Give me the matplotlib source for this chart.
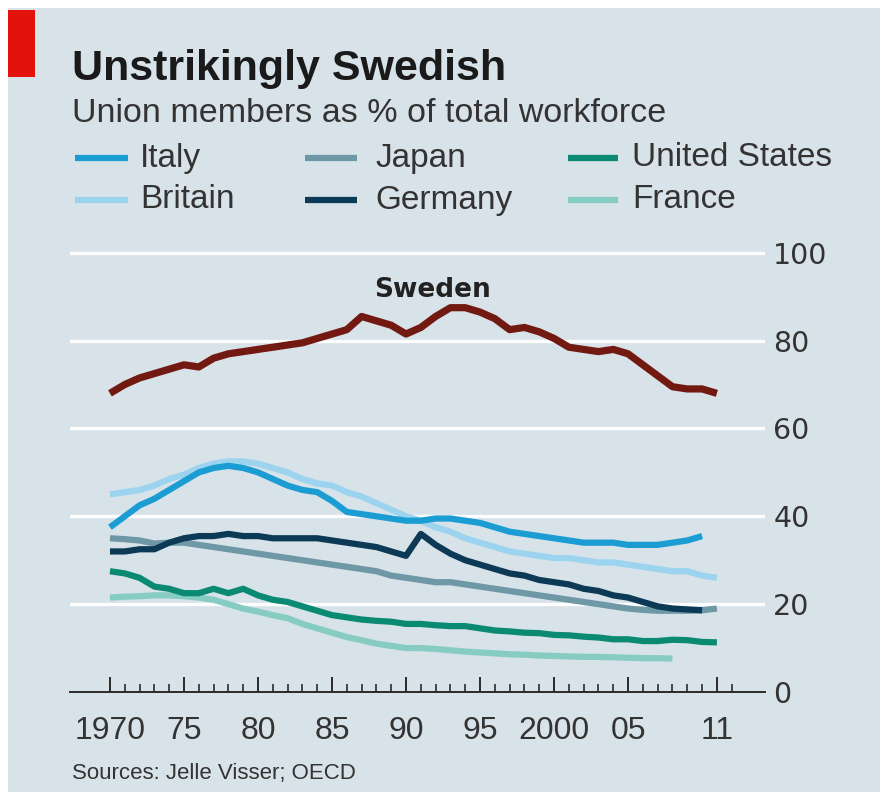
import matplotlib
matplotlib.use("Agg")
import matplotlib.pyplot as plt
from matplotlib.lines import Line2D
from matplotlib.patches import Rectangle

# union density, % of workforce
years = list(range(1970, 2012))

sweden = [68, 70, 71.5, 72.5, 73.5, 74.5, 74, 76, 77, 77.5,
          78, 78.5, 79, 79.5, 80.5, 81.5, 82.5, 85.5, 84.5, 83.5,
          81.5, 83, 85.5, 87.5, 87.5, 86.5, 85, 82.5, 83, 82,
          80.5, 78.5, 78, 77.5, 78, 77, 74.5, 72, 69.5, 69,
          69, 68]
italy = [37.5, 40, 42.5, 44, 46, 48, 50, 51, 51.5, 51,
         50, 48.5, 47, 46, 45.5, 43.5, 41, 40.5, 40, 39.5,
         39, 39, 39.5, 39.5, 39, 38.5, 37.5, 36.5, 36, 35.5,
         35, 34.5, 34, 34, 34, 33.5, 33.5, 33.5, 34, 34.5,
         35.5]
britain = [45, 45.5, 46, 47, 48.5, 49.5, 51, 52, 52.5, 52.5,
           52, 51, 50, 48.5, 47.5, 47, 45.5, 44.5, 43, 41.5,
           40, 39, 37.5, 36.5, 35, 34, 33, 32, 31.5, 31,
           30.5, 30.5, 30, 29.5, 29.5, 29, 28.5, 28, 27.5, 27.5,
           26.5, 26]
japan = [35, 34.8, 34.5, 33.8, 34, 34, 33.5, 33, 32.5, 32,
         31.5, 31, 30.5, 30, 29.5, 29, 28.5, 28, 27.5, 26.5,
         26, 25.5, 25, 25, 24.5, 24, 23.5, 23, 22.5, 22,
         21.5, 21, 20.5, 20, 19.5, 19, 18.7, 18.5, 18.5, 18.5,
         18.6, 19]
germany = [32, 32, 32.5, 32.5, 34, 35, 35.5, 35.5, 36, 35.5,
           35.5, 35, 35, 35, 35, 34.5, 34, 33.5, 33, 32,
           31, 36, 33.5, 31.5, 30, 29, 28, 27, 26.5, 25.5,
           25, 24.5, 23.5, 23, 22, 21.5, 20.5, 19.5, 19, 18.8,
           18.6]
united_states = [27.5, 27, 26, 24, 23.5, 22.5, 22.5, 23.5, 22.5, 23.5,
                 22, 21, 20.5, 19.5, 18.5, 17.5, 17, 16.5, 16.2, 16,
                 15.5, 15.5, 15.2, 15, 15, 14.5, 14, 13.8, 13.5, 13.4,
                 13, 12.9, 12.6, 12.4, 12, 12, 11.6, 11.6, 11.9, 11.8,
                 11.4, 11.3]
france = [21.5, 21.7, 21.8, 22, 22, 21.8, 21.5, 21, 20, 19,
          18.3, 17.5, 16.8, 15.5, 14.5, 13.5, 12.5, 11.8, 11, 10.5,
          10, 10, 9.8, 9.5, 9.2, 9, 8.8, 8.6, 8.5, 8.3,
          8.2, 8.1, 8, 8, 7.9, 7.8, 7.7, 7.7, 7.6]

legend_names = ["Italy", "Britain", "Japan", "Germany", "United States", "France"]
x_ticks = [1970, 1975, 1980, 1985, 1990, 1995, 2000, 2005, 2011]
x_labels = ["1970", "75", "80", "85", "90", "95", "2000", "05", "11"]
y_ticks = [0, 20, 40, 60, 80, 100]

colors = {
    "Italy": "#1b9cd3",
    "Britain": "#9cd4ef",
    "Japan": "#6f98a7",
    "Germany": "#0c3a56",
    "United States": "#0b8a73",
    "France": "#86ccc3",
}
sweden_color = "#721a12"
bg = "#d8e2e9"
dark = "#2b2b2b"

plt.rcParams["font.family"] = ["Liberation Sans", "DejaVu Sans"]

fig = plt.figure(figsize=(8.85, 7.98), dpi=100, facecolor="white")
W, H = 885, 798
fig.add_artist(Rectangle((8 / W, 6 / H), 872 / W, 784 / H, transform=fig.transFigure,
                         facecolor=bg, edgecolor="none", zorder=0))
fig.add_artist(Rectangle((8 / W, 1 - 77 / H), 27 / W, 67 / H, transform=fig.transFigure,
                         facecolor="#e3120b", edgecolor="none", zorder=1))

ax = fig.add_axes([70 / W, 1 - 692 / H, 695 / W, 448 / H])
ax.set_facecolor("none")

series = [
    ("France", years[:len(france)], france),
    ("United States", years[:len(united_states)], united_states),
    ("Japan", years[:len(japan)], japan),
    ("Germany", years[:len(germany)], germany),
    ("Britain", years[:len(britain)], britain),
    ("Italy", years[:len(italy)], italy),
]
for name, xs, ys in series:
    ax.plot(xs, ys, color=colors[name], lw=4.5, solid_capstyle="butt",
            solid_joinstyle="round", zorder=3)
ax.plot(years[:len(sweden)], sweden, color=sweden_color, lw=5.2,
        solid_capstyle="butt", solid_joinstyle="round", zorder=4)
ax.text(1991.8, 91.6, "Sweden", family="DejaVu Sans", fontsize=19, fontweight="bold",
        color="#222222", ha="center", va="center")

ax.set_xlim(1967.3, 2014.25)
ax.set_ylim(0, 102)

for s in ["top", "left", "right"]:
    ax.spines[s].set_visible(False)
ax.spines["bottom"].set_color(dark)
ax.spines["bottom"].set_linewidth(1.4)

ax.set_yticks(y_ticks)
ax.set_yticklabels([str(v) for v in y_ticks], family="DejaVu Sans", fontsize=20.5,
                   color="#333333")
ax.yaxis.tick_right()
ax.tick_params(axis="y", length=0, pad=6)
for v in y_ticks[1:]:
    ax.axhline(v, color="white", lw=2.4, zorder=1)

ax.set_xticks(x_ticks)
ax.set_xticklabels(x_labels, fontsize=23, color="#333333")
ax.set_xticks(years + [2012], minor=True)
ax.tick_params(axis="x", which="major", direction="in", length=11, width=1.4,
               color=dark, pad=17)
ax.tick_params(axis="x", which="minor", direction="in", length=6, width=1.2, color=dark)

fig.text(72 / W, 1 - 80 / H, "Unstrikingly Swedish", fontsize=31, fontweight="bold",
         color="#1a1a1a", va="baseline")
fig.text(72 / W, 1 - 122 / H, "Union members as % of total workforce", fontsize=24.5,
         color="#333333", va="baseline")

# legend, three columns by two rows
col_line_x = [(75, 128), (305, 357), (568, 618)]
col_text_x = [140, 375, 632]
row_y = [158, 200]
for i, name in enumerate(legend_names):
    c, r = divmod(i, 2)
    y = 1 - row_y[r] / H
    x0, x1 = col_line_x[c]
    fig.add_artist(Line2D([x0 / W, x1 / W], [y, y], transform=fig.transFigure,
                          color=colors[name], lw=4.5, solid_capstyle="butt"))
    fig.text(col_text_x[c] / W, y, name, fontsize=24, color="#333333", va="center")

fig.text(72 / W, 1 - 773 / H, "Sources: Jelle Visser; OECD", fontsize=16,
         color="#333333", va="center")

fig.savefig("out.png", dpi=100, facecolor=fig.get_facecolor())
